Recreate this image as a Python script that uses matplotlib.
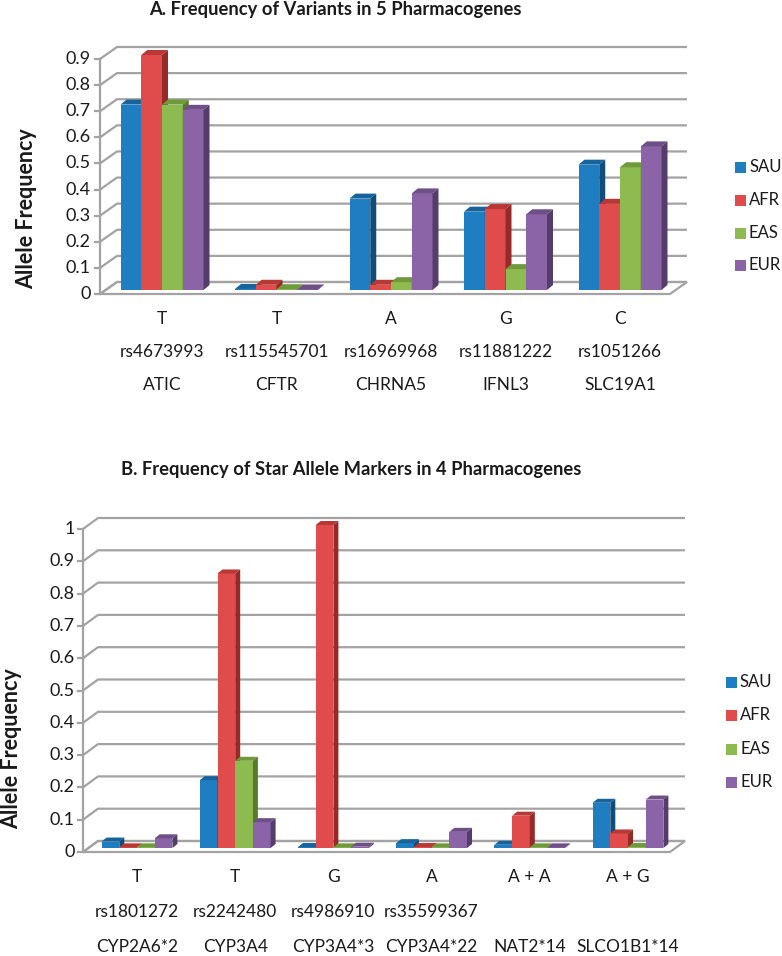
import matplotlib
matplotlib.use("Agg")
import matplotlib.pyplot as plt
from matplotlib.patches import Polygon, Rectangle

W, H, DPI = 782, 956, 100

# ---------------- data ----------------
groups = ["SAU", "AFR", "EAS", "EUR"]
front_colors = ["#1F7DC1", "#E04C4B", "#8DBB4F", "#8A64A6"]
top_colors = ["#17639C", "#B83836", "#6F9A3A", "#6E4F88"]
side_colors = ["#124C78", "#952A29", "#587A2C", "#553D6B"]

a_alleles = ["T", "T", "A", "G", "C"]
a_rsids = ["rs4673993", "rs115545701", "rs16969968", "rs11881222", "rs1051266"]
a_genes = ["ATIC", "CFTR", "CHRNA5", "IFNL3", "SLC19A1"]
a_sau = [0.71, 0.004, 0.35, 0.30, 0.48]
a_afr = [0.90, 0.02, 0.02, 0.31, 0.33]
a_eas = [0.71, 0.003, 0.03, 0.08, 0.47]
a_eur = [0.69, 0.002, 0.37, 0.29, 0.55]
a_ticks = [0, 0.1, 0.2, 0.3, 0.4, 0.5, 0.6, 0.7, 0.8, 0.9]

b_alleles = ["T", "T", "G", "A", "A + A", "A + G"]
b_rsids = ["rs1801272", "rs2242480", "rs4986910", "rs35599367", "", ""]
b_genes = ["CYP2A6*2", "CYP3A4", "CYP3A4*3", "CYP3A4*22", "NAT2*14", "SLCO1B1*14"]
b_sau = [0.02, 0.21, 0.003, 0.015, 0.01, 0.14]
b_afr = [0.002, 0.85, 1.0, 0.003, 0.10, 0.045]
b_eas = [0.002, 0.27, 0.002, 0.002, 0.002, 0.003]
b_eur = [0.03, 0.08, 0.004, 0.05, 0.002, 0.15]
b_ticks = [0, 0.1, 0.2, 0.3, 0.4, 0.5, 0.6, 0.7, 0.8, 0.9, 1]

FONT = "Lato"
GRID = "#A3A3A3"
TXT = "#1a1a1a"
FS_TICK = 13
FS_CAT = 12.5
FS_LEG = 12

fig = plt.figure(figsize=(W / DPI, H / DPI), dpi=DPI)
fig.patch.set_facecolor("white")


def chart(cfg, series, ticks, alleles, rsids, genes):
    left, right, y0, ytop = cfg["left"], cfg["right"], cfg["y0"], cfg["ytop"]
    ax = fig.add_axes([left / W, 1 - y0 / H, (right - left) / W, (y0 - ytop) / H])
    n = len(genes)
    pxcat = cfg["pxcat"]
    xl = -(cfg["c0"] - left) / pxcat
    xr = xl + (right - left) / pxcat
    ymax = ticks[-1]
    ax.set_xlim(xl, xr)
    ax.set_ylim(0, ymax)
    ax.axis("off")
    sx = (xr - xl) / (right - left)
    sy = ymax / (y0 - ytop)
    dx, dy = cfg["dx"] * sx, cfg["dy"] * sy

    # floor
    floor = Polygon([(xl, 0), (xr, 0), (xr + dx, dy), (xl + dx, dy)], closed=True,
                    facecolor="white", edgecolor=GRID, lw=1.6, clip_on=False, zorder=1)
    ax.add_patch(floor)
    # gridlines on side and back wall
    for v in ticks:
        ax.plot([xl, xl + dx, xr + dx], [v, v + dy, v + dy], color=GRID, lw=1.6,
                clip_on=False, zorder=1, solid_capstyle="butt")
        ax.plot([xl - 5 * sx, xl], [v, v], color=GRID, lw=1.6, clip_on=False, zorder=1)
        ax.text(xl - cfg["tickpad"] * sx, v, f"{v:g}", ha="right", va="center",
                fontsize=FS_TICK, family=FONT, color=TXT)
    ax.plot([xl, xl], [0, ymax], color=GRID, lw=1.6, clip_on=False, zorder=1)

    # bars
    bw = cfg["bw"] / pxcat
    bdx, bdy = cfg["bdx"] * sx, cfg["bdy"] * sy
    base = cfg["base"] * sy
    ng = len(series)
    for i in range(n):
        for j in range(ng):
            v = series[j][i]
            x0 = i - ng * bw / 2 + j * bw
            z = 3 + i * 10 + j
            ax.add_patch(Rectangle((x0, base), bw, v, facecolor=front_colors[j],
                                   edgecolor="none", zorder=z, clip_on=False))
            ax.add_patch(Polygon([(x0, base + v), (x0 + bw, base + v),
                                  (x0 + bw + bdx, base + v + bdy), (x0 + bdx, base + v + bdy)],
                                 closed=True, facecolor=top_colors[j], edgecolor="none",
                                 zorder=z, clip_on=False))
            ax.add_patch(Polygon([(x0 + bw, base), (x0 + bw + bdx, base + bdy),
                                  (x0 + bw + bdx, base + v + bdy), (x0 + bw, base + v)],
                                 closed=True, facecolor=side_colors[j], edgecolor="none",
                                 zorder=z, clip_on=False))

    # category labels (three rows)
    for i in range(n):
        for row, txt in zip(cfg["rows"], (alleles[i], rsids[i], genes[i])):
            if txt:
                ax.text(i, -(row - y0) * sy, txt, ha="center", va="center",
                        fontsize=FS_CAT, family=FONT, color=TXT, clip_on=False)

    # title
    fig.text(cfg["title_x"] / W, 1 - cfg["title_y"] / H, cfg["title"], ha="center",
             va="center", fontsize=13.2, fontweight="bold", family=FONT, color=TXT)
    # y label
    fig.text(cfg["ylab_x"] / W, 1 - cfg["ylab_y"] / H, "Allele Frequency", rotation=90,
             ha="center", va="center", fontsize=15.5, fontweight="bold", family=FONT, color=TXT)
    # legend
    for j, g in enumerate(groups):
        yy = cfg["leg_y"][j]
        fig.add_artist(Rectangle((cfg["leg_x"] / W, 1 - (yy + 5.5) / H), 11 / W, 11 / H,
                                 facecolor=front_colors[j], edgecolor="none",
                                 transform=fig.transFigure))
        fig.text((cfg["leg_x"] + 14) / W, 1 - yy / H, g, ha="left", va="center",
                 fontsize=FS_LEG, family=FONT, color=TXT)


cfg_a = dict(left=100, right=670, y0=294, ytop=59, pxcat=114.5, c0=162,
             dx=17, dy=12, tickpad=9, bw=20.75, bdx=6, bdy=5, base=4,
             rows=[319, 352, 385], title="A. Frequency of Variants in 5 Pharmacogenes",
             title_x=335, title_y=10, ylab_x=27, ylab_y=209,
             leg_x=735, leg_y=[167, 200, 233, 265])
chart(cfg_a, [a_sau, a_afr, a_eas, a_eur], a_ticks, a_alleles, a_rsids, a_genes)

cfg_b = dict(left=83, right=670, y0=852, ytop=529, pxcat=98.2, c0=137,
             dx=15, dy=11, tickpad=8, bw=17.7, bdx=5, bdy=4, base=4,
             rows=[877, 912, 947],
             title="B. Frequency of Star Allele Markers in 4 Pharmacogenes",
             title_x=351, title_y=470, ylab_x=12, ylab_y=749,
             leg_x=726, leg_y=[682, 715, 749, 782])
chart(cfg_b, [b_sau, b_afr, b_eas, b_eur], b_ticks, b_alleles, b_rsids, b_genes)

fig.savefig("out.png", dpi=DPI, facecolor="white")
